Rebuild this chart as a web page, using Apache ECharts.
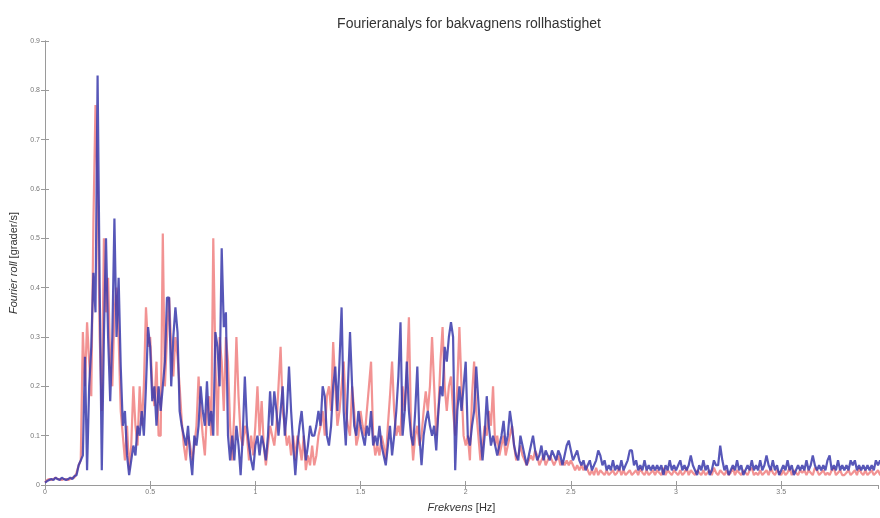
<!DOCTYPE html>
<html>
<head>
<meta charset="utf-8">
<script src="https://cdn.jsdelivr.net/npm/echarts@6/dist/echarts.min.js"></script>
<style>
html,body{margin:0;padding:0;background:#fff;}
#chart{width:880px;height:518px;}
</style>
</head>
<body>
<div id="chart"></div>
<script>
// Frequency resolution of the spectra (Hz per sample), starting at 0 Hz
const freqStep = 0.01;

// Fourier roll amplitude [grader/s], blue series
const rollBlue = [
0.005,0.008,0.01,0.012,0.01,0.015,0.012,0.01,0.015,0.012,
0.01,0.012,0.015,0.012,0.018,0.02,0.04,0.05,0.06,0.26,
0.03,0.2,0.28,0.43,0.35,0.83,0.4,0.03,0.3,0.5,
0.3,0.17,0.3,0.54,0.3,0.42,0.24,0.12,0.15,0.06,
0.02,0.05,0.08,0.06,0.12,0.1,0.15,0.1,0.2,0.32,
0.28,0.17,0.2,0.12,0.2,0.15,0.2,0.25,0.38,0.38,
0.2,0.3,0.36,0.31,0.15,0.12,0.1,0.08,0.12,0.06,
0.02,0.1,0.08,0.12,0.2,0.15,0.12,0.21,0.12,0.15,
0.1,0.31,0.28,0.2,0.48,0.32,0.35,0.1,0.05,0.1,
0.05,0.12,0.08,0.02,0.1,0.22,0.12,0.08,0.05,0.03,
0.08,0.1,0.06,0.1,0.08,0.05,0.1,0.19,0.12,0.19,
0.15,0.1,0.15,0.2,0.1,0.15,0.24,0.15,0.08,0.02,
0.08,0.12,0.15,0.1,0.05,0.08,0.12,0.1,0.1,0.12,
0.15,0.12,0.2,0.18,0.1,0.08,0.12,0.2,0.24,0.15,
0.25,0.36,0.15,0.08,0.2,0.31,0.2,0.12,0.1,0.15,
0.12,0.1,0.08,0.12,0.1,0.15,0.08,0.1,0.08,0.12,
0.08,0.06,0.04,0.08,0.12,0.06,0.1,0.15,0.22,0.33,
0.1,0.15,0.25,0.15,0.1,0.08,0.15,0.24,0.1,0.04,
0.1,0.13,0.15,0.12,0.1,0.12,0.07,0.15,0.2,0.18,
0.28,0.25,0.3,0.33,0.3,0.03,0.15,0.2,0.15,0.2,
0.25,0.1,0.08,0.12,0.15,0.24,0.17,0.1,0.05,0.1,
0.18,0.12,0.08,0.1,0.08,0.06,0.08,0.1,0.13,0.08,
0.1,0.15,0.12,0.08,0.06,0.05,0.1,0.08,0.06,0.04,
0.06,0.08,0.1,0.07,0.05,0.06,0.08,0.05,0.07,0.06,
0.05,0.07,0.06,0.05,0.07,0.06,0.04,0.06,0.08,0.09,
0.07,0.05,0.06,0.07,0.05,0.04,0.05,0.03,0.04,0.05,
0.03,0.04,0.05,0.07,0.06,0.04,0.05,0.03,0.04,0.03,
0.05,0.03,0.04,0.03,0.05,0.03,0.04,0.05,0.07,0.07,
0.04,0.05,0.03,0.04,0.03,0.05,0.03,0.04,0.03,0.04,
0.03,0.04,0.03,0.04,0.02,0.04,0.03,0.05,0.03,0.04,
0.03,0.04,0.05,0.03,0.04,0.03,0.04,0.06,0.04,0.03,
0.02,0.04,0.03,0.05,0.03,0.04,0.02,0.03,0.05,0.04,
0.04,0.08,0.05,0.03,0.04,0.02,0.03,0.04,0.03,0.05,
0.03,0.04,0.02,0.03,0.04,0.03,0.05,0.03,0.04,0.03,
0.05,0.03,0.04,0.06,0.04,0.03,0.05,0.03,0.04,0.02,
0.03,0.04,0.03,0.05,0.03,0.04,0.02,0.03,0.04,0.03,
0.04,0.03,0.05,0.03,0.04,0.06,0.04,0.03,0.04,0.03,
0.04,0.03,0.05,0.06,0.03,0.04,0.03,0.05,0.03,0.04,
0.03,0.04,0.03,0.05,0.04,0.05,0.03,0.04,0.03,0.04,
0.03,0.04,0.03,0.04,0.03,0.05,0.04,0.05,0.04,0.03
];

// Fourier roll amplitude [grader/s], red series
const rollRed = [
0.005,0.01,0.012,0.01,0.012,0.015,0.012,0.012,0.01,0.012,
0.012,0.01,0.012,0.015,0.015,0.025,0.04,0.05,0.31,0.2,
0.33,0.25,0.18,0.53,0.77,0.6,0.3,0.15,0.5,0.35,
0.42,0.25,0.2,0.35,0.4,0.3,0.15,0.1,0.05,0.12,
0.03,0.08,0.2,0.12,0.08,0.2,0.12,0.2,0.36,0.28,
0.3,0.2,0.16,0.25,0.1,0.1,0.51,0.2,0.3,0.38,
0.28,0.22,0.3,0.26,0.2,0.13,0.08,0.05,0.1,0.08,
0.05,0.08,0.12,0.22,0.15,0.1,0.06,0.15,0.18,0.1,
0.5,0.25,0.1,0.3,0.25,0.15,0.3,0.25,0.12,0.05,
0.15,0.3,0.18,0.1,0.08,0.12,0.1,0.05,0.1,0.06,
0.12,0.2,0.1,0.17,0.08,0.04,0.08,0.12,0.1,0.08,
0.12,0.2,0.28,0.15,0.12,0.08,0.1,0.06,0.1,0.05,
0.1,0.08,0.05,0.1,0.03,0.06,0.04,0.08,0.04,0.06,
0.1,0.12,0.15,0.1,0.18,0.2,0.15,0.29,0.2,0.12,
0.15,0.2,0.25,0.15,0.12,0.1,0.2,0.15,0.08,0.1,
0.15,0.12,0.1,0.15,0.2,0.25,0.1,0.06,0.08,0.06,
0.1,0.08,0.05,0.12,0.18,0.25,0.15,0.1,0.12,0.1,
0.2,0.15,0.22,0.34,0.12,0.05,0.1,0.12,0.08,0.1,
0.15,0.19,0.15,0.2,0.3,0.2,0.1,0.15,0.25,0.32,
0.2,0.15,0.2,0.22,0.15,0.1,0.2,0.32,0.2,0.1,
0.08,0.1,0.05,0.18,0.25,0.15,0.1,0.05,0.08,0.12,
0.1,0.15,0.12,0.2,0.08,0.1,0.06,0.08,0.1,0.06,
0.08,0.1,0.12,0.08,0.05,0.06,0.08,0.06,0.05,0.04,
0.05,0.06,0.05,0.07,0.06,0.04,0.05,0.06,0.04,0.05,
0.06,0.05,0.04,0.05,0.06,0.04,0.05,0.04,0.05,0.04,
0.05,0.04,0.03,0.04,0.03,0.04,0.03,0.04,0.03,0.02,
0.03,0.02,0.035,0.02,0.03,0.025,0.02,0.03,0.02,0.025,
0.03,0.02,0.025,0.035,0.02,0.03,0.02,0.025,0.03,0.02,
0.025,0.03,0.02,0.035,0.025,0.02,0.03,0.02,0.025,0.03,
0.02,0.03,0.025,0.02,0.035,0.02,0.03,0.025,0.02,0.03,
0.025,0.02,0.03,0.02,0.025,0.035,0.02,0.03,0.025,0.02,
0.03,0.025,0.02,0.03,0.02,0.025,0.03,0.02,0.035,0.025,
0.02,0.03,0.025,0.02,0.03,0.02,0.025,0.035,0.02,0.03,
0.025,0.02,0.03,0.025,0.02,0.03,0.035,0.02,0.025,0.02,
0.03,0.02,0.025,0.03,0.02,0.035,0.025,0.02,0.03,0.025,
0.02,0.03,0.02,0.025,0.035,0.02,0.03,0.025,0.02,0.03,
0.025,0.03,0.02,0.03,0.025,0.02,0.035,0.03,0.02,0.025,
0.03,0.02,0.025,0.02,0.03,0.035,0.02,0.025,0.03,0.02,
0.02,0.025,0.03,0.02,0.025,0.03,0.02,0.035,0.025,0.02,
0.03,0.02,0.025,0.03,0.02,0.025,0.03,0.02,0.025,0.03
];

const titleText = 'Fourieranalys for bakvagnens rollhastighet';
const xName = 'Frekvens';
const xUnit = '[Hz]';
const yName = 'Fourier roll';
const yUnit = '[grader/s]';

const toPairs = arr => arr.map((v, i) => [Math.round(i * freqStep * 100) / 100, v]);

const axisGray = '#9a9a9a';
const labelGray = '#777';
const fontFam = '"Liberation Sans", Arial, sans-serif';

const chart = echarts.init(document.getElementById('chart'), null, {renderer: 'canvas'});
chart.setOption({
  animation: false,
  backgroundColor: '#fff',
  title: {
    text: titleText,
    left: 464, top: 12, textAlign: 'center',
    textStyle: {fontSize: 14, fontWeight: 'normal', color: '#333', fontFamily: fontFam}
  },
  grid: {left: 45, right: 2, top: 41, bottom: 31, containLabel: false},
  xAxis: [{
    type: 'value', min: 0, max: 3.96, interval: 0.5, position: 'bottom',
    name: '{i|' + xName + '} ' + xUnit, nameLocation: 'middle', nameGap: 17,
    nameTextStyle: {fontSize: 11, color: '#333', fontFamily: fontFam,
      rich: {i: {fontStyle: 'italic', fontSize: 11, color: '#333', fontFamily: fontFam}}},
    axisLine: {show: true, lineStyle: {color: axisGray, width: 1}},
    axisTick: {show: true, inside: true, length: 4, lineStyle: {color: axisGray}},
    axisLabel: {fontSize: 7, color: labelGray, margin: 4, showMaxLabel: false, fontFamily: fontFam},
    splitLine: {show: false}
  }, {
    type: 'value', min: 0, max: 3.96, interval: 0.5, position: 'top',
    axisLine: {show: true, lineStyle: {color: axisGray, width: 1}},
    axisTick: {show: true, inside: true, length: 4, lineStyle: {color: axisGray}},
    axisLabel: {show: false},
    splitLine: {show: false}
  }],
  yAxis: [{
    type: 'value', min: 0, max: 0.9, interval: 0.1, position: 'left',
    name: '{i|' + yName + '} ' + yUnit, nameLocation: 'middle', nameGap: 20, nameRotate: 90,
    nameTextStyle: {fontSize: 11, color: '#333', fontFamily: fontFam,
      rich: {i: {fontStyle: 'italic', fontSize: 11, color: '#333', fontFamily: fontFam}}},
    axisLine: {show: true, lineStyle: {color: axisGray, width: 1}},
    axisTick: {show: true, inside: true, length: 4, lineStyle: {color: axisGray}},
    axisLabel: {fontSize: 7, color: labelGray, margin: 5, fontFamily: fontFam},
    splitLine: {show: false}
  }, {
    type: 'value', min: 0, max: 0.9, interval: 0.1, position: 'right',
    axisLine: {show: true, lineStyle: {color: axisGray, width: 1}},
    axisTick: {show: true, inside: true, length: 4, lineStyle: {color: axisGray}},
    axisLabel: {show: false},
    splitLine: {show: false}
  }],
  series: [{
    name: 'röd', type: 'line', xAxisIndex: 0, yAxisIndex: 0,
    data: toPairs(rollRed), showSymbol: false, symbol: 'none', sampling: null, clip: true,
    lineStyle: {color: '#f08080', width: 2.2, opacity: 0.85}, z: 2
  }, {
    name: 'blå', type: 'line', xAxisIndex: 0, yAxisIndex: 0,
    data: toPairs(rollBlue), showSymbol: false, symbol: 'none', sampling: null, clip: true,
    lineStyle: {color: '#3a3aac', width: 2.2, opacity: 0.85}, z: 3
  }]
});
</script>
</body>
</html>
